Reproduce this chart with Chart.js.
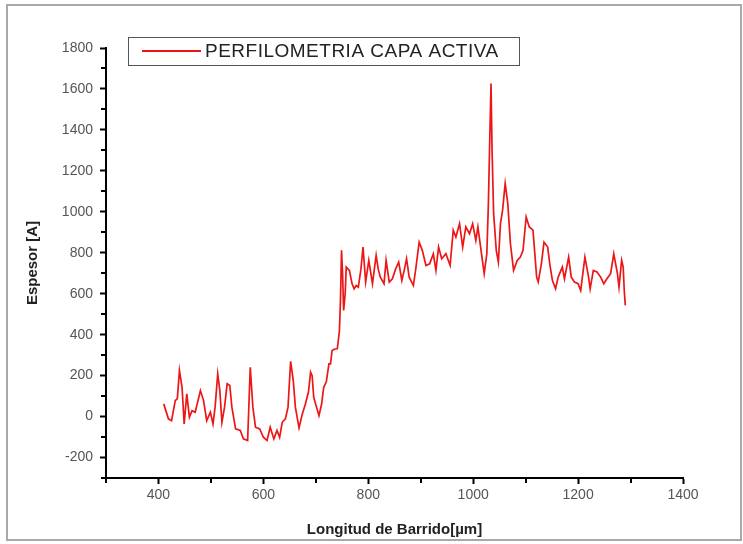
<!DOCTYPE html>
<html>
<head>
<meta charset="utf-8">
<script src="https://cdn.jsdelivr.net/npm/chart.js@4.4.1/dist/chart.umd.min.js"></script>
<style>
  html, body { margin: 0; padding: 0; background: #fff; }
  canvas { display: block; }
</style>
</head>
<body>
<canvas id="perfil" width="743" height="544"></canvas>
<script>
// scan position (µm) and thickness (A)
const posicion = [
  410, 419, 425, 432, 436, 440, 445, 449, 454, 459, 464, 470, 480, 486, 492, 499,
  504, 508, 513, 517, 521, 526, 531, 536, 540, 547, 556, 562, 570, 575, 580, 585,
  593, 600, 607, 613, 620, 626, 631, 636, 642, 647, 652, 657, 661, 668, 674, 680,
  686, 690, 693, 696, 702, 706, 711, 715, 720, 725, 728, 731, 736, 741, 745, 747,
  749, 751, 753, 756, 758, 764, 769, 773, 777, 781, 786, 790, 795, 801, 808, 815,
  819, 823, 830, 834, 840, 846, 852, 858, 864, 869, 873, 878, 886, 891, 897, 903,
  910, 917, 924, 929, 934, 940, 948, 956, 962, 967, 974, 980, 986, 993, 999, 1005,
  1009, 1015, 1021, 1026, 1029, 1031, 1034, 1036, 1039, 1044, 1048, 1052, 1056, 1061, 1066, 1071,
  1077, 1084, 1090, 1095, 1101, 1107, 1114, 1121, 1124, 1130, 1135, 1142, 1146, 1151, 1157, 1162,
  1170, 1174, 1182, 1187, 1193, 1200, 1205, 1213, 1220, 1223, 1229, 1236, 1243, 1249, 1255, 1262,
  1268, 1275, 1278, 1283, 1286, 1288, 1290
];
const espesor = [
  62, -11, -20, 78, 88, 225, 143, -36, 111, -3, 29, 21, 127, 78, -20, 21,
  -36, 46, 209, 127, -28, 46, 160, 152, 46, -60, -68, -109, -117, 241, 46, -52,
  -60, -101, -117, -52, -109, -68, -101, -28, -11, 46, 270, 176, 46, -55, 10, 60,
  120, 217, 200, 94, 40, 5, 60, 143, 170, 257, 257, 323, 330, 331, 420, 567,
  812, 700, 518, 600, 730, 714, 650, 624, 640, 632, 720, 828, 657, 763, 649, 787,
  720, 681, 649, 763, 657, 673, 720, 754, 665, 720, 771, 681, 640, 730, 852, 812,
  738, 746, 795, 714, 828, 771, 795, 738, 910, 877, 942, 828, 926, 893, 942, 860,
  926, 812, 698, 795, 1040, 1284, 1627, 1300, 991, 812, 754, 942, 1007, 1138, 1040, 844,
  714, 763, 779, 812, 975, 926, 910, 681, 657, 746, 852, 828, 746, 665, 624, 681,
  730, 673, 779, 681, 657, 649, 616, 779, 681, 624, 714, 706, 681, 649, 673, 698,
  795, 698, 632, 763, 730, 616, 543
];

const xTicks = [400, 600, 800, 1000, 1200, 1400];
const xMinor = [300, 500, 700, 900, 1100, 1300];
const yTicks = [-200, 0, 200, 400, 600, 800, 1000, 1200, 1400, 1600, 1800];
const yMinor = [-300, -100, 100, 300, 500, 700, 900, 1100, 1300, 1500, 1700];

const serie = 'PERFILOMETRIA CAPA ACTIVA';
const rojo = 'rgb(236, 22, 22)';
const fuente = "'Liberation Sans', Arial, sans-serif";

// outer frame, minor ticks and the boxed legend
const extras = {
  id: 'extras',
  beforeDraw(chart) {
    const ctx = chart.ctx;
    ctx.save();
    ctx.fillStyle = '#fff';
    ctx.fillRect(0, 0, chart.width, chart.height);
    ctx.strokeStyle = '#a8a8a8';
    ctx.lineWidth = 2;
    ctx.strokeRect(7, 5, 734, 535);
    ctx.restore();
  },
  afterDraw(chart) {
    const ctx = chart.ctx;
    const xs = chart.scales.x, ys = chart.scales.y;
    const area = chart.chartArea;
    ctx.save();
    ctx.strokeStyle = '#000';
    ctx.lineWidth = 2;
    ctx.beginPath();
    xMinor.forEach(v => {
      const px = Math.round(xs.getPixelForValue(v));
      ctx.moveTo(px, area.bottom);
      ctx.lineTo(px, area.bottom + 5);
    });
    yMinor.forEach(v => {
      const py = Math.round(ys.getPixelForValue(v));
      ctx.moveTo(area.left, py);
      ctx.lineTo(area.left - 5, py);
    });
    ctx.stroke();

    // legend
    const ds = chart.data.datasets[0];
    ctx.strokeStyle = '#555';
    ctx.lineWidth = 1;
    ctx.strokeRect(128.5, 37.5, 391, 28);
    ctx.strokeStyle = ds.borderColor;
    ctx.lineWidth = 2;
    ctx.beginPath();
    ctx.moveTo(142, 51);
    ctx.lineTo(201, 51);
    ctx.stroke();
    ctx.fillStyle = '#222';
    ctx.font = '19px ' + fuente;
    ctx.letterSpacing = '0.5px';
    ctx.textBaseline = 'middle';
    ctx.textAlign = 'left';
    ctx.fillText(ds.label, 205, 52);
    ctx.restore();
  }
};

const sinComas = v => String(v);

new Chart(document.getElementById('perfil'), {
  type: 'line',
  data: {
    datasets: [{
      label: serie,
      data: posicion.map((x, i) => ({ x: x, y: espesor[i] })),
      borderColor: rojo,
      borderWidth: 1.7,
      pointRadius: 0,
      tension: 0,
      fill: false
    }]
  },
  options: {
    responsive: false,
    animation: false,
    layout: { padding: { left: 0, top: 48, right: 60, bottom: 0 } },
    plugins: {
      legend: { display: false },
      tooltip: { enabled: false }
    },
    scales: {
      x: {
        type: 'linear',
        min: 300,
        max: 1400,
        afterBuildTicks: s => { s.ticks = xTicks.map(v => ({ value: v })); },
        afterFit: s => { s.height = 66; },
        grid: { drawOnChartArea: false, drawTicks: true, tickLength: 6, tickWidth: 2, tickColor: '#000' },
        border: { color: '#000', width: 2 },
        ticks: { color: '#555', padding: 3, maxRotation: 0, callback: sinComas, font: { family: fuente, size: 14 } },
        title: {
          display: true,
          text: 'Longitud de Barrido[µm]',
          color: '#222',
          padding: { top: 0, bottom: 5 },
          font: { family: fuente, size: 15, weight: 'bold' }
        }
      },
      y: {
        min: -300,
        max: 1800,
        afterBuildTicks: s => { s.ticks = yTicks.map(v => ({ value: v })); },
        afterFit: s => { s.width = 106; },
        grid: { drawOnChartArea: false, drawTicks: true, tickLength: 6, tickWidth: 2, tickColor: '#000' },
        border: { color: '#000', width: 2 },
        ticks: { color: '#555', padding: 7, callback: sinComas, font: { family: fuente, size: 14 } },
        title: {
          display: true,
          text: 'Espesor [A]',
          color: '#222',
          padding: { top: 24, bottom: 0 },
          font: { family: fuente, size: 15, weight: 'bold' }
        }
      }
    }
  },
  plugins: [extras]
});
</script>
</body>
</html>
